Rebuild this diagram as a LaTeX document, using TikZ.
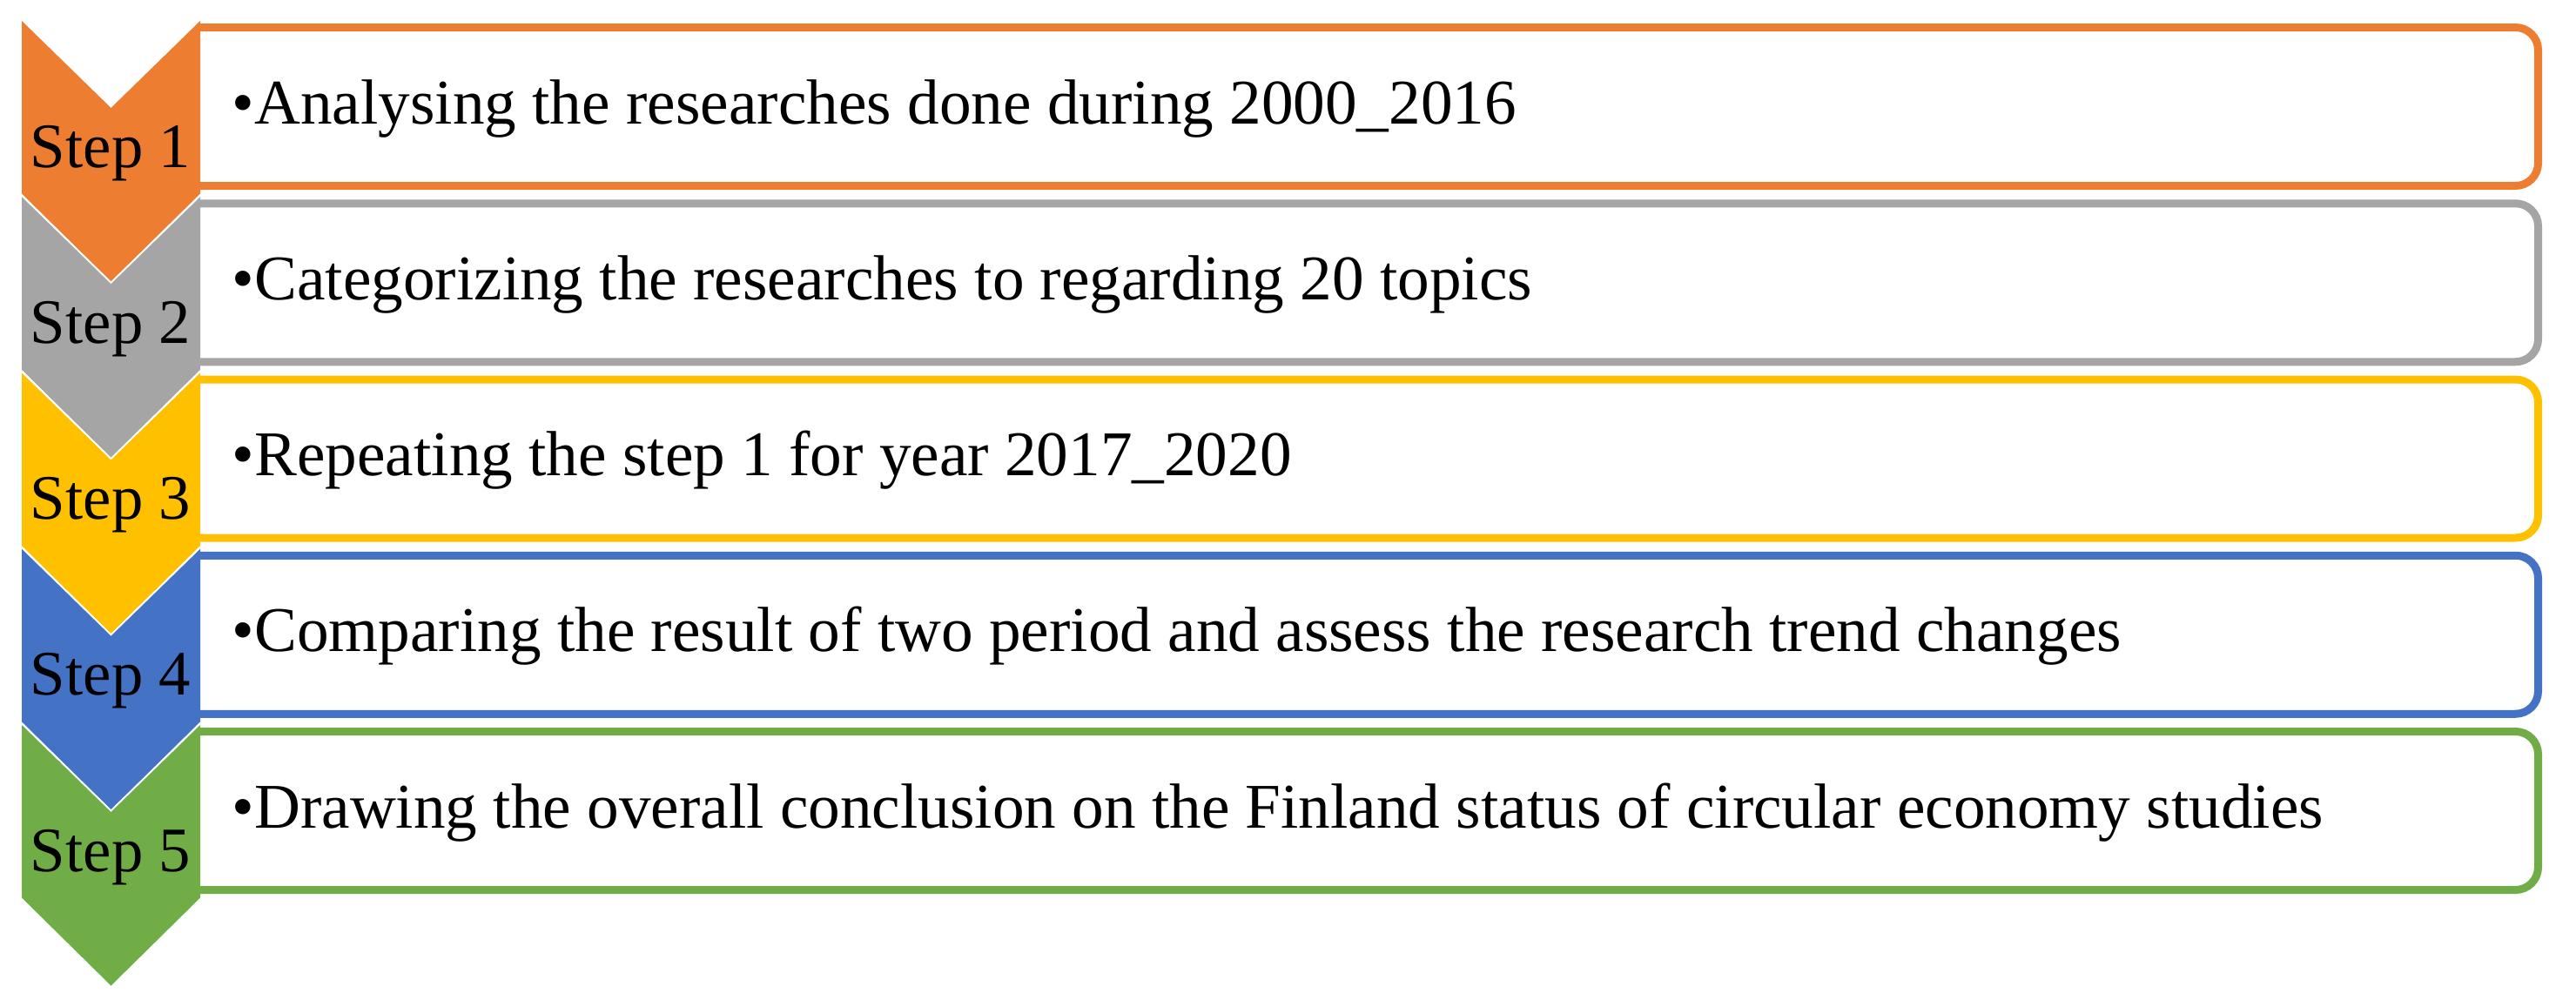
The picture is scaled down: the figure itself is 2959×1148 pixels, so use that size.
\documentclass[tikz,border=0pt]{standalone}
\usepackage{fontspec}
\setmainfont{Liberation Serif}
\definecolor{corange}{HTML}{ED7D31}
\definecolor{cgray}{HTML}{A5A5A5}
\definecolor{cgold}{HTML}{FFC000}
\definecolor{cblue}{HTML}{4472C4}
\definecolor{cgreen}{HTML}{70AD47}
\tikzset{
  stepbox/.style={draw=#1, line width=2.25pt, rounded corners=6.5pt, fill=white},
  chev/.style={fill=#1},
  notchline/.style={draw=white, line width=0.45pt, line join=miter},
  steplabel/.style={anchor=base, inner sep=0pt, font=\fontsize{18.2}{22}\selectfont},
  bodytext/.style={anchor=base west, inner sep=0pt, font=\fontsize{18.3}{22}\selectfont},
}
\begin{document}
\begin{tikzpicture}[x=0.25pt, y=-0.25pt]
\useasboundingbox (0,0) rectangle (2959,1148);
\foreach \i/\col/\txt in {
  0/corange/{Analysing the researches done during 2000\_2016},
  1/cgray/{Categorizing the researches to regarding 20 topics},
  2/cgold/{Repeating the step 1 for year 2017\_2020},
  3/cblue/{Comparing the result of two period and assess the research trend changes},
  4/cgreen/{Drawing the overall conclusion on the Finland status of circular economy studies}} {
  \pgfmathsetmacro{\c}{122.5+202.25*\i}
  \path[stepbox=\col] (224,\c-91) -- (2915.5,\c-91) -- (2915.5,\c+91) -- (224,\c+91);
  \node[bodytext] (t\i) at (266,\c+19.5) {•\txt};
}
\foreach \i/\col in {0/corange,1/cgray,2/cgold,3/cblue,4/cgreen} {
  \pgfmathsetmacro{\c}{122.5+202.25*\i}
  \pgfmathtruncatemacro{\n}{\i+1}
  \fill[chev=\col] (25,\c-100) -- (127.5,\c) -- (230,\c-100) -- (230,\c+100) -- (127.5,\c+201) -- (25,\c+100) -- cycle;
  \draw[notchline] (25,\c-100) -- (127.5,\c) -- (230,\c-100);
  \node[steplabel] (s\i) at (127,\c+69.5) {Step \n};
}
\end{tikzpicture}
\end{document}
